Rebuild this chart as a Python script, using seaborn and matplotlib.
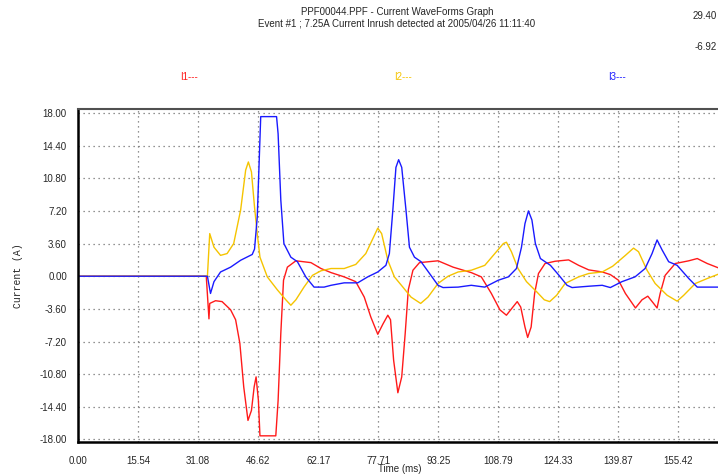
import matplotlib
matplotlib.use("Agg")
import matplotlib.pyplot as plt
import seaborn as sns
from matplotlib.ticker import FixedLocator, MultipleLocator

# ---------- DATA ----------
t_i1 = [0.0, 33.2, 33.9, 34.1, 35.6, 37.3, 39.5, 40.8, 41.9, 42.9, 44.0, 44.9, 45.6, 46.1, 46.7,
        47.1, 51.2, 51.8, 52.5, 53.2, 54.2, 56.4, 60.3, 62.9, 65.5, 68.9, 71.9, 74.1, 75.8, 77.6,
        78.9, 80.2, 80.9, 81.7, 82.8, 83.8, 84.7, 85.5, 86.7, 88.4, 93.2, 97.1, 101.8, 104.4, 107.0,
        109.2, 110.9, 112.2, 113.7, 114.6, 115.7, 116.4, 117.3, 118.2, 119.2, 120.9, 123.5, 127.0,
        129.6, 132.2, 135.7, 137.8, 139.9, 141.7, 144.3, 146.0, 147.5, 149.0, 149.9, 150.7, 152.0,
        154.6, 158.1, 160.3, 162.9, 166.2]
v_i1 = [0.0, 0.0, -4.7, -3.0, -2.7, -2.8, -3.7, -4.8, -7.4, -12.2, -15.9, -14.8, -12.2, -11.1, -13.7,
        -17.6, -17.6, -13.7, -6.3, -0.44, 1.0, 1.7, 1.5, 0.85, 0.4, -0.07, -0.6, -2.3, -4.5, -6.4,
        -5.3, -4.3, -4.8, -9.25, -12.85, -11.1, -6.3, -1.5, 0.66, 1.5, 1.7, 1.0, 0.4, -0.07, -1.9,
        -3.7, -4.3, -3.6, -2.8, -3.4, -5.6, -6.75, -5.6, -1.9, 0.3, 1.4, 1.65, 1.8,
        1.2, 0.7, 0.47, 0.18, -0.44, -1.9, -3.5, -2.6, -2.2, -3.0, -3.5, -1.9, 0.1,
        1.4, 1.7, 1.95, 1.4, 0.85]

t_i2 = [0.0, 33.5, 34.1, 35.2, 36.9, 38.6, 40.3, 42.1, 43.4, 44.1, 44.9, 45.7, 46.4, 47.1, 49.0,
        51.6, 53.8, 55.1, 56.4, 58.5, 60.7, 62.9, 65.5, 68.9, 71.9, 74.5, 76.5, 77.6, 78.6, 80.2,
        81.9, 84.1, 86.2, 88.7, 90.6, 93.2, 95.8, 98.4, 101.8, 105.3, 107.9, 110.1, 110.9, 112.2,
        113.9, 116.1, 118.7, 120.7, 122.1, 123.9, 126.1, 129.6, 132.2, 135.7, 138.4, 141.7, 143.8,
        145.1, 147.3, 149.4, 152.5, 155.1, 156.8, 159.8, 162.9, 166.2]
v_i2 = [0.0, 0.0, 4.7, 3.2, 2.3, 2.5, 3.6, 7.3, 11.7, 12.6, 11.5, 7.6, 4.7, 2.1, -0.07,
        -1.5, -2.6, -3.2, -2.6, -1.2, 0.1, 0.6, 0.85, 0.85, 1.3, 2.5, 4.3, 5.3, 4.7, 1.76,
        -0.07, -1.2, -2.3, -3.0, -2.3, -0.8, 0.0, 0.47, 0.66, 1.2, 2.5, 3.6, 3.75, 2.7,
        0.85, -0.6, -1.7, -2.6, -2.8, -2.1, -0.8, -0.07, 0.3, 0.47, 1.1, 2.3, 3.1,
        2.7, 0.66, -0.8, -2.1, -2.75, -2.1, -0.8, -0.25, 0.3]

t_i3 = [0.0, 33.5, 34.3, 35.2, 36.9, 39.5, 42.1, 45.1, 45.7, 46.4, 47.3, 51.4, 51.8, 52.5, 53.3,
        55.1, 56.8, 59.0, 61.1, 63.7, 65.5, 68.9, 72.4, 75.0, 77.6, 79.7, 80.6, 81.5, 82.3, 83.0,
        83.8, 84.9, 85.8, 87.1, 88.8, 91.0, 93.2, 94.5, 98.4, 101.8, 105.3, 108.8, 111.4, 113.5,
        114.8, 115.7, 116.6, 117.5, 118.4, 119.7, 122.3, 124.5, 126.6, 127.9, 132.3, 135.7, 137.8,
        140.8, 144.2, 146.8, 148.6, 149.9, 151.2, 152.9, 155.1, 158.1, 160.3, 166.2]
v_i3 = [0.0, 0.0, -1.9, -0.6, 0.47, 1.0, 1.76, 2.4, 3.0, 6.5, 17.6, 17.6, 15.7, 8.4, 3.6,
        2.1, 1.6, -0.1, -1.2, -1.2, -1.0, -0.73, -0.73, -0.07, 0.47, 1.2, 2.5, 7.3, 12.0, 12.85,
        12.0, 7.3, 3.2, 2.1, 1.6, 0.3, -1.0, -1.25, -1.2, -1.0, -1.2, -0.44, -0.07, 0.85,
        3.2, 5.8, 7.2, 6.2, 3.6, 1.95, 1.2, 0.1, -1.0, -1.25, -1.1, -1.0, -1.25,
        -0.6, -0.07, 0.85, 2.5, 4.0, 2.9, 1.6, 1.2, -0.25, -1.2, -1.2]

x_tick_labels = ["0.00", "15.54", "31.08", "46.62", "62.17", "77.71", "93.25",
                 "108.79", "124.33", "139.87", "155.42"]
y_tick_labels = ["18.00", "14.40", "10.80", "7.20", "3.60", "0.00", "-3.60",
                 "-7.20", "-10.80", "-14.40", "-18.00"]

series = [("I1", t_i1, v_i1, "#ff1a1a"),
          ("I2", t_i2, v_i2, "#f5c400"),
          ("I3", t_i3, v_i3, "#1a1aff")]

# ---------- PLOT ----------
sns.set_style("white")
plt.rcParams["font.family"] = ["Liberation Sans", "DejaVu Sans"]

fig = plt.figure(figsize=(7.18, 4.74), dpi=100)
ax = fig.add_axes([78 / 718, 32 / 474, 1 - 78 / 718 + 0.005, 333 / 474])

for name, t, v, col in series:
    sns.lineplot(x=t, y=v, color=col, lw=1.0, ax=ax, sort=False, estimator=None)

ax.set_xlim(0, 166.6)
ax.set_ylim(-18.28, 18.44)

ax.xaxis.set_major_locator(FixedLocator([float(s) for s in x_tick_labels]))
ax.set_xticklabels(x_tick_labels)
ax.xaxis.set_minor_locator(MultipleLocator(15.5416 / 2))
ax.yaxis.set_major_locator(FixedLocator([float(s) for s in y_tick_labels]))
ax.set_yticklabels(y_tick_labels)

ax.grid(True, which="major", linestyle=(0, (1, 3)), color="#707070", lw=0.9)
ax.set_axisbelow(True)

ax.tick_params(axis="x", which="major", direction="out", length=7, width=1, labelsize=7, pad=3)
ax.tick_params(axis="x", which="minor", direction="out", length=4, width=1)
ax.tick_params(axis="y", length=0, labelsize=7, pad=8)

for s in ["left", "bottom"]:
    ax.spines[s].set_linewidth(1.8)
    ax.spines[s].set_color("black")
ax.spines["top"].set_linewidth(1.5)
ax.spines["top"].set_color("#505050")
ax.spines["right"].set_visible(False)

ax.set_xlabel("Time (ms)", fontsize=7, labelpad=-1)
ax.set_ylabel("")
fig.text(18 / 718, 1 - 276 / 474, "Current (A)", rotation=90, ha="center", va="center",
         fontsize=7, family=["Liberation Mono", "DejaVu Sans Mono"])

fig.text(397 / 718, 1 - 12 / 474, "PPF00044.PPF - Current WaveForms Graph",
         ha="center", va="center", fontsize=7)
fig.text(397 / 718, 1 - 24 / 474, "Event #1 ; 7.25A Current Inrush detected at 2005/04/26 11:11:40",
         ha="center", va="center", fontsize=7)
fig.text(717 / 718, 1 - 16 / 474, "29.40", ha="right", va="center", fontsize=7)
fig.text(717 / 718, 1 - 47 / 474, "-6.92", ha="right", va="center", fontsize=7)

for (name, t, v, col), xpos in zip(series, [180, 394, 608]):
    fig.text(xpos / 718, 1 - 77 / 474, name + "---", color=col, ha="left", va="center", fontsize=7)

fig.savefig("out.png", dpi=100)
